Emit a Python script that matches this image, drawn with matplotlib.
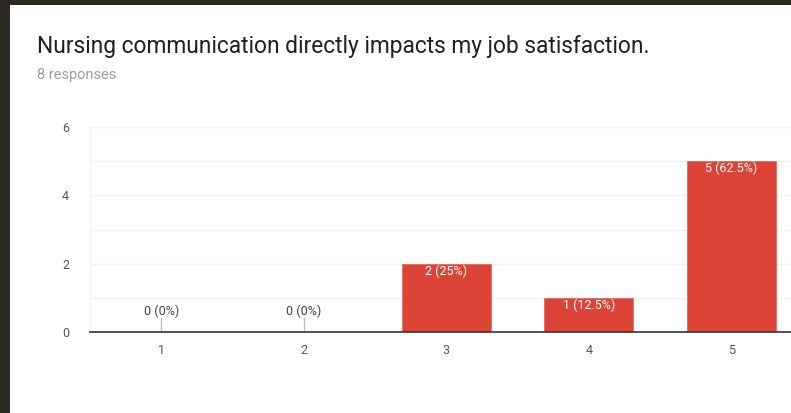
import matplotlib.pyplot as plt
from matplotlib.patches import Rectangle

# data
categories = ["1", "2", "3", "4", "5"]
counts = [0, 0, 2, 1, 5]
labels = ["0 (0%)", "0 (0%)", "2 (25%)", "1 (12.5%)", "5 (62.5%)"]
title = "Nursing communication directly impacts my job satisfaction."
subtitle = "8 responses"

plt.rcParams['font.family'] = ['Roboto', 'DejaVu Sans']

W, H = 791, 413
fig = plt.figure(figsize=(W / 100, H / 100), dpi=100, facecolor="#2b2820")
# white card
card = Rectangle((10 / W, 0), 1, (H - 5) / H, transform=fig.transFigure,
                 facecolor="white", edgecolor="none", zorder=-10)
fig.patches.append(card)

fig.text(37 / W, 1 - 53 / H, title, fontsize=16.4, color="#212121", va="baseline")
fig.text(37 / W, 1 - 79 / H, subtitle, fontsize=10.5, color="#9e9e9e", va="baseline")

# axes: left edge at 90px, zero line at y=332, top (6) at y=127; x 0.5 .. 5.5 spans 142.5px each
left, right = 90, 90 + 5 * 142.5
bottom, top = 332, 127
ax = fig.add_axes([left / W, 1 - bottom / H, (right - left) / W, (bottom - top) / H], zorder=1)
ax.set_facecolor("none")

x = range(1, len(categories) + 1)
ax.bar(x, counts, width=0.625, color="#db4437", edgecolor="#e46a5f", linewidth=0.6, zorder=3)

for xi, c, lab in zip(x, counts, labels):
    if c == 0:
        ax.plot([xi, xi], [0, 0.4], color="#bdbdbd", lw=1, zorder=3)
        ax.text(xi, 0.62, lab, ha="center", va="center", fontsize=9, color="#424242")
    else:
        ax.text(xi, c - 0.22, lab, ha="center", va="center", fontsize=9, color="white", zorder=4)

ax.set_xlim(0.5, 5.5)
ax.set_ylim(0, 6)
ax.set_yticks([0, 2, 4, 6])
ax.set_yticks([1, 3, 5], minor=True)
ax.set_xticks(list(x))
ax.set_xticklabels(categories)
ax.grid(axis="y", which="both", color="#f2f2f2", lw=1, zorder=0)
ax.tick_params(axis="both", which="both", length=0, labelsize=9, labelcolor="#555555")
ax.tick_params(axis="y", pad=15)
ax.tick_params(axis="x", pad=9)
for s in ["top", "right", "left"]:
    ax.spines[s].set_visible(False)
ax.spines["bottom"].set_color("#333333")
ax.spines["bottom"].set_linewidth(1.2)
ax.spines["bottom"].set_zorder(5)
ax.plot([0.5, 0.5], [0, 6], color="#f2f2f2", lw=1, zorder=0)

fig.savefig("out.png", dpi=100, facecolor=fig.get_facecolor())
